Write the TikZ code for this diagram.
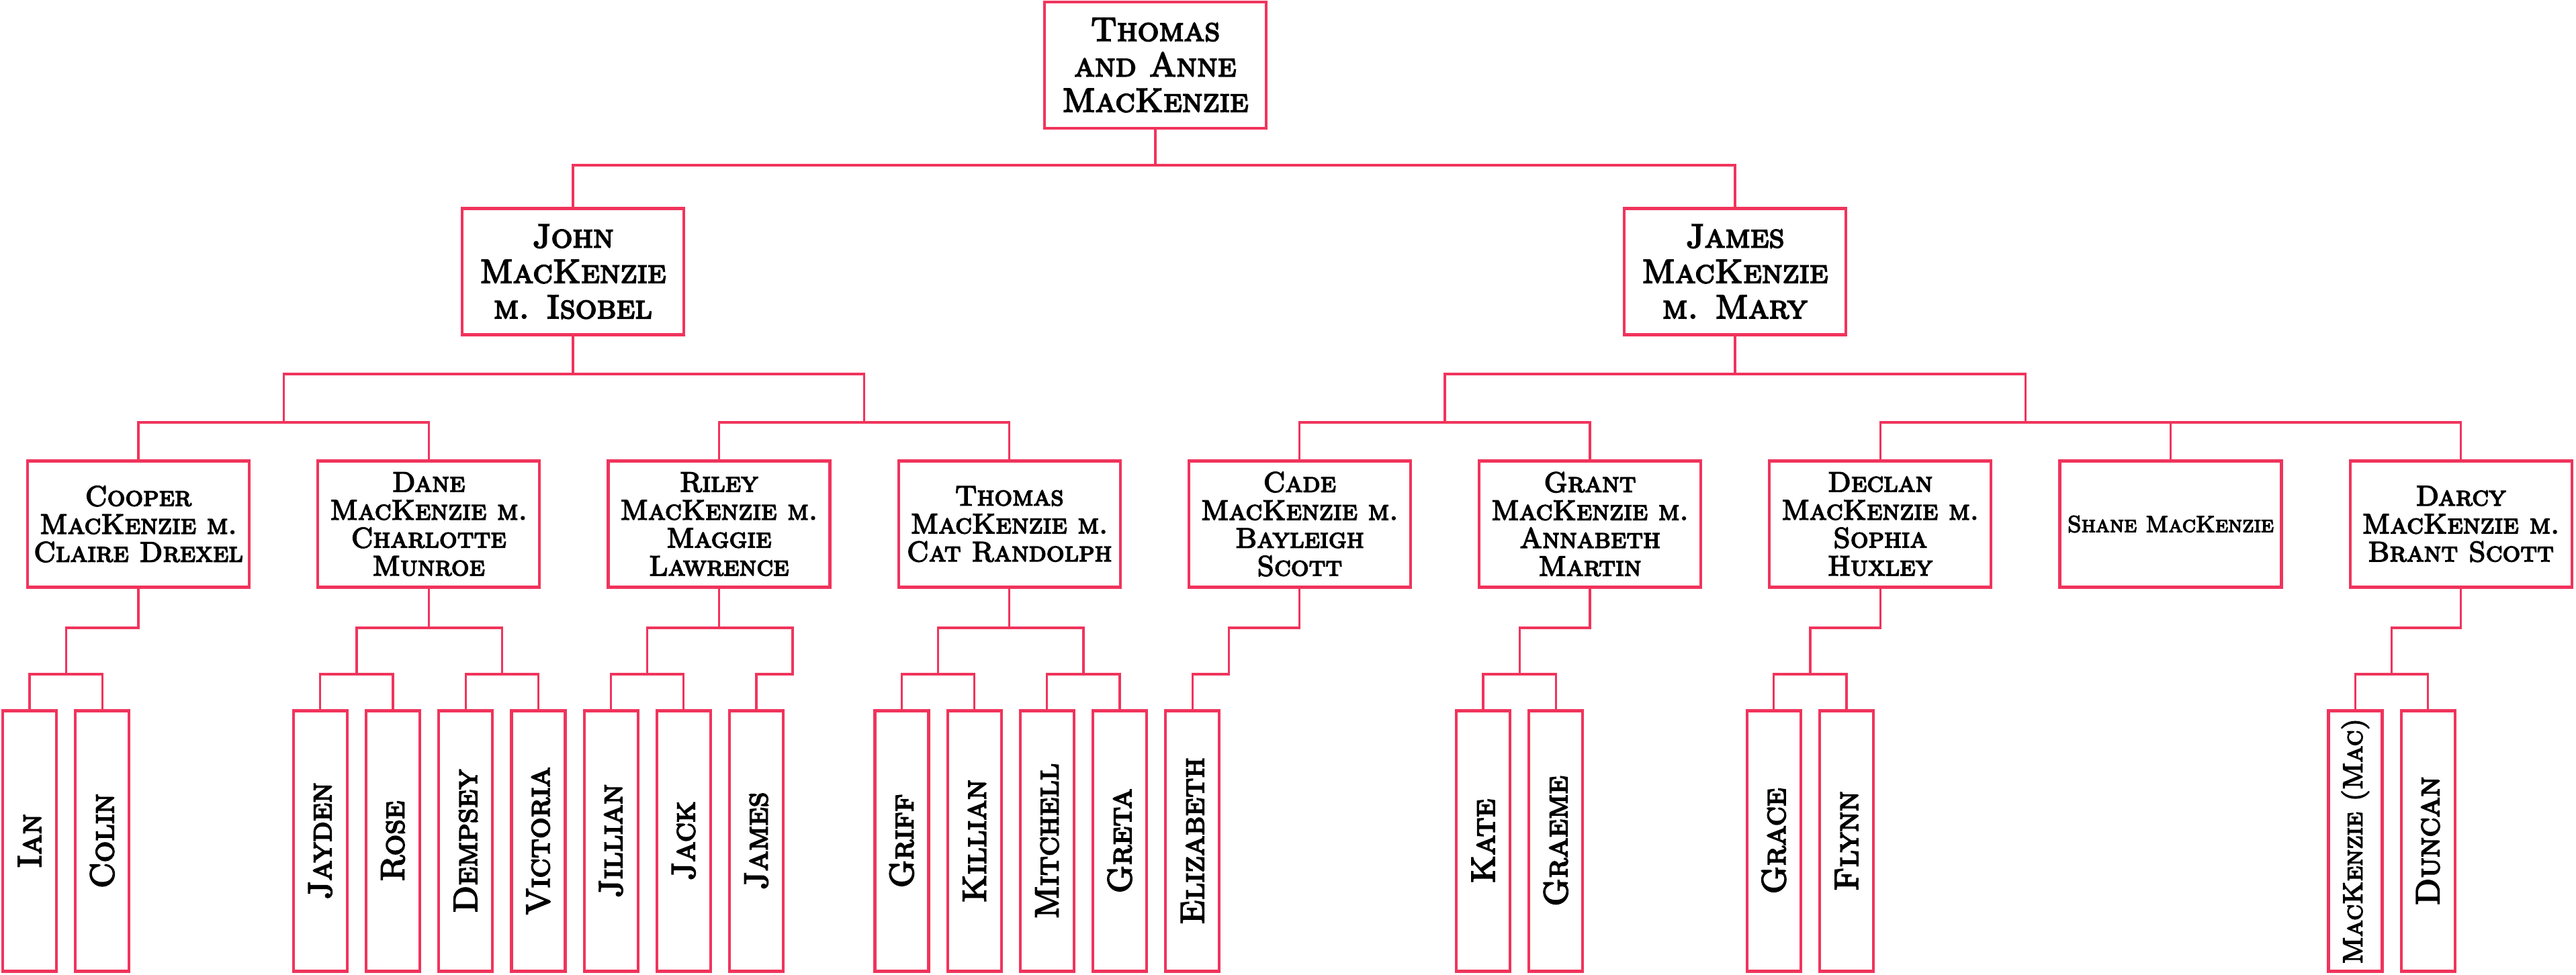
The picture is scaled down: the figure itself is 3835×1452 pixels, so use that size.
\documentclass[tikz,border=0pt]{standalone}
\usepackage{fontspec}
\usepackage{graphicx}
\usetikzlibrary{calc}
\newfontfamily\treefont{lmromancaps10-regular}[Extension=.otf, FakeBold=4]
\definecolor{treepink}{RGB}{240,52,92}
\tikzset{
  box/.style={draw=treepink, line width=1.05pt, fill=white, align=center, inner sep=0pt,
              minimum width=82.5pt, minimum height=47pt},
  topbox/.style={box, font=\fontsize{12.5}{13.2}\treefont},
  kidbox/.style={box, font=\fontsize{10.5}{10.4}\treefont},
  gkbox/.style={draw=treepink, line width=1.05pt, fill=white, inner sep=0pt,
              minimum width=20pt, minimum height=97pt, font=\fontsize{12.4}{12}\treefont},
  conn/.style={draw=treepink, line width=0.8pt},
}
\begin{document}
\begin{tikzpicture}[x=0.25pt, y=-0.25pt]
\useasboundingbox (0,0) rectangle (3835,1452);
% level 0
\node[topbox] (ta) at (1720,97) {Thomas\\and Anne\\MacKenzie};
% level 1
\node[topbox] (john) at (853,404.5) {John\\MacKenzie\\m. Isobel};
\node[topbox] (james) at (2583,404.5) {James\\MacKenzie\\m. Mary};
% level 2
\node[kidbox] (cooper)  at (206,780.5)    {Cooper\\MacKenzie m.\\Claire Drexel};
\node[kidbox] (dane)    at (638.2,780.5)  {Dane\\MacKenzie m.\\Charlotte\\Munroe};
\node[kidbox] (riley)   at (1070.4,780.5) {Riley\\MacKenzie m.\\Maggie\\Lawrence};
\node[kidbox] (thomasm) at (1502.6,780.5) {Thomas\\MacKenzie m.\\Cat Randolph};
\node[kidbox] (cade)    at (1934.8,780.5) {Cade\\MacKenzie m.\\Bayleigh\\Scott};
\node[kidbox] (grant)   at (2367,780.5)   {Grant\\MacKenzie m.\\Annabeth\\Martin};
\node[kidbox] (declan)  at (2799.2,780.5) {Declan\\MacKenzie m.\\Sophia\\Huxley};
\node[kidbox, font=\fontsize{8.6}{9}\treefont] (shane) at (3231.4,780.5) {Shane MacKenzie};
\node[kidbox] (darcy)   at (3663.6,780.5) {Darcy\\MacKenzie m.\\Brant Scott};
% level 3
\node[gkbox] (ian)       at ({44+108.2*0},1252.5)  {\rotatebox{90}{Ian}};
\node[gkbox] (colin)     at ({44+108.2*1},1252.5)  {\rotatebox{90}{Colin}};
\node[gkbox] (jayden)    at ({44+108.2*4},1252.5)  {\rotatebox{90}{Jayden}};
\node[gkbox] (rose)      at ({44+108.2*5},1252.5)  {\rotatebox{90}{Rose}};
\node[gkbox] (dempsey)   at ({44+108.2*6},1252.5)  {\rotatebox{90}{Dempsey}};
\node[gkbox] (victoria)  at ({44+108.2*7},1252.5)  {\rotatebox{90}{Victoria}};
\node[gkbox] (jillian)   at ({44+108.2*8},1252.5)  {\rotatebox{90}{Jillian}};
\node[gkbox] (jack)      at ({44+108.2*9},1252.5)  {\rotatebox{90}{Jack}};
\node[gkbox] (jamesr)    at ({44+108.2*10},1252.5) {\rotatebox{90}{James}};
\node[gkbox] (griff)     at ({44+108.2*12},1252.5) {\rotatebox{90}{Griff}};
\node[gkbox] (killian)   at ({44+108.2*13},1252.5) {\rotatebox{90}{Killian}};
\node[gkbox] (mitchell)  at ({44+108.2*14},1252.5) {\rotatebox{90}{Mitchell}};
\node[gkbox] (greta)     at ({44+108.2*15},1252.5) {\rotatebox{90}{Greta}};
\node[gkbox] (elizabeth) at ({44+108.2*16},1252.5) {\rotatebox{90}{Elizabeth}};
\node[gkbox] (kate)      at ({44+108.2*20},1252.5) {\rotatebox{90}{Kate}};
\node[gkbox] (graeme)    at ({44+108.2*21},1252.5) {\rotatebox{90}{Graeme}};
\node[gkbox] (grace)     at ({44+108.2*24},1252.5) {\rotatebox{90}{Grace}};
\node[gkbox] (flynn)     at ({44+108.2*25},1252.5) {\rotatebox{90}{Flynn}};
\node[gkbox, font=\fontsize{10.2}{11}\treefont] (mac) at ({44+108.2*32},1252.5) {\rotatebox{90}{MacKenzie (Mac)}};
\node[gkbox] (duncan)    at ({44+108.2*33},1252.5) {\rotatebox{90}{Duncan}};
% connector levels
\coordinate (ya) at (0,246);
\coordinate (yb) at (0,557);
\coordinate (yc) at (0,629);
\coordinate (yd) at (0,935);
\coordinate (ye) at (0,1004);
% level 0 -> 1
\draw[conn] (ta.south) -- (ta.south |- ya);
\draw[conn] (john.north) -- (john.north |- ya) -- (james.north |- ya) -- (james.north);
% John's children
\coordinate (jA) at ($(cooper.north)!0.5!(dane.north)$);
\coordinate (jB) at ($(riley.north)!0.5!(thomasm.north)$);
\draw[conn] (john.south) -- (john.south |- yb);
\draw[conn] (jA |- yc) -- (jA |- yb) -- (jB |- yb) -- (jB |- yc);
\draw[conn] (cooper.north) -- (cooper.north |- yc) -- (dane.north |- yc) -- (dane.north);
\draw[conn] (riley.north) -- (riley.north |- yc) -- (thomasm.north |- yc) -- (thomasm.north);
% James's children
\coordinate (jC) at ($(cade.north)!0.5!(grant.north)$);
\coordinate (jD) at ($(declan.north)!0.5!(shane.north)$);
\draw[conn] (james.south) -- (james.south |- yb);
\draw[conn] (jC |- yc) -- (jC |- yb) -- (jD |- yb) -- (jD |- yc);
\draw[conn] (cade.north) -- (cade.north |- yc) -- (grant.north |- yc) -- (grant.north);
\draw[conn] (declan.north) -- (declan.north |- yc) -- (darcy.north |- yc) -- (darcy.north);
\draw[conn] (shane.north |- yc) -- (shane.north);
% Cooper
\coordinate (pCo) at ($(ian.north)!0.5!(colin.north)$);
\draw[conn] (cooper.south) -- (cooper.south |- yd) -- (pCo |- yd) -- (pCo |- ye);
\draw[conn] (ian.north) -- (ian.north |- ye) -- (colin.north |- ye) -- (colin.north);
% Dane
\coordinate (pDa1) at ($(jayden.north)!0.5!(rose.north)$);
\coordinate (pDa2) at ($(dempsey.north)!0.5!(victoria.north)$);
\draw[conn] (dane.south) -- (dane.south |- yd);
\draw[conn] (pDa1 |- ye) -- (pDa1 |- yd) -- (pDa2 |- yd) -- (pDa2 |- ye);
\draw[conn] (jayden.north) -- (jayden.north |- ye) -- (rose.north |- ye) -- (rose.north);
\draw[conn] (dempsey.north) -- (dempsey.north |- ye) -- (victoria.north |- ye) -- (victoria.north);
% Riley
\coordinate (pRi1) at ($(jillian.north)!0.5!(jack.north)$);
\coordinate (pRi2) at ($(jamesr.north)+(54,0)$);
\draw[conn] (riley.south) -- (riley.south |- yd);
\draw[conn] (pRi1 |- ye) -- (pRi1 |- yd) -- (pRi2 |- yd) -- (pRi2 |- ye) -- (jamesr.north |- ye) -- (jamesr.north);
\draw[conn] (jillian.north) -- (jillian.north |- ye) -- (jack.north |- ye) -- (jack.north);
% Thomas
\coordinate (pTh1) at ($(griff.north)!0.5!(killian.north)$);
\coordinate (pTh2) at ($(mitchell.north)!0.5!(greta.north)$);
\draw[conn] (thomasm.south) -- (thomasm.south |- yd);
\draw[conn] (pTh1 |- ye) -- (pTh1 |- yd) -- (pTh2 |- yd) -- (pTh2 |- ye);
\draw[conn] (griff.north) -- (griff.north |- ye) -- (killian.north |- ye) -- (killian.north);
\draw[conn] (mitchell.north) -- (mitchell.north |- ye) -- (greta.north |- ye) -- (greta.north);
% Cade
\coordinate (pCa) at ($(elizabeth.north)+(54,0)$);
\draw[conn] (cade.south) -- (cade.south |- yd) -- (pCa |- yd) -- (pCa |- ye) -- (elizabeth.north |- ye) -- (elizabeth.north);
% Grant
\coordinate (pGr) at ($(kate.north)!0.5!(graeme.north)$);
\draw[conn] (grant.south) -- (grant.south |- yd) -- (pGr |- yd) -- (pGr |- ye);
\draw[conn] (kate.north) -- (kate.north |- ye) -- (graeme.north |- ye) -- (graeme.north);
% Declan
\coordinate (pDe) at ($(grace.north)!0.5!(flynn.north)$);
\draw[conn] (declan.south) -- (declan.south |- yd) -- (pDe |- yd) -- (pDe |- ye);
\draw[conn] (grace.north) -- (grace.north |- ye) -- (flynn.north |- ye) -- (flynn.north);
% Darcy
\coordinate (pDr) at ($(mac.north)!0.5!(duncan.north)$);
\draw[conn] (darcy.south) -- (darcy.south |- yd) -- (pDr |- yd) -- (pDr |- ye);
\draw[conn] (mac.north) -- (mac.north |- ye) -- (duncan.north |- ye) -- (duncan.north);
\end{tikzpicture}
\end{document}
